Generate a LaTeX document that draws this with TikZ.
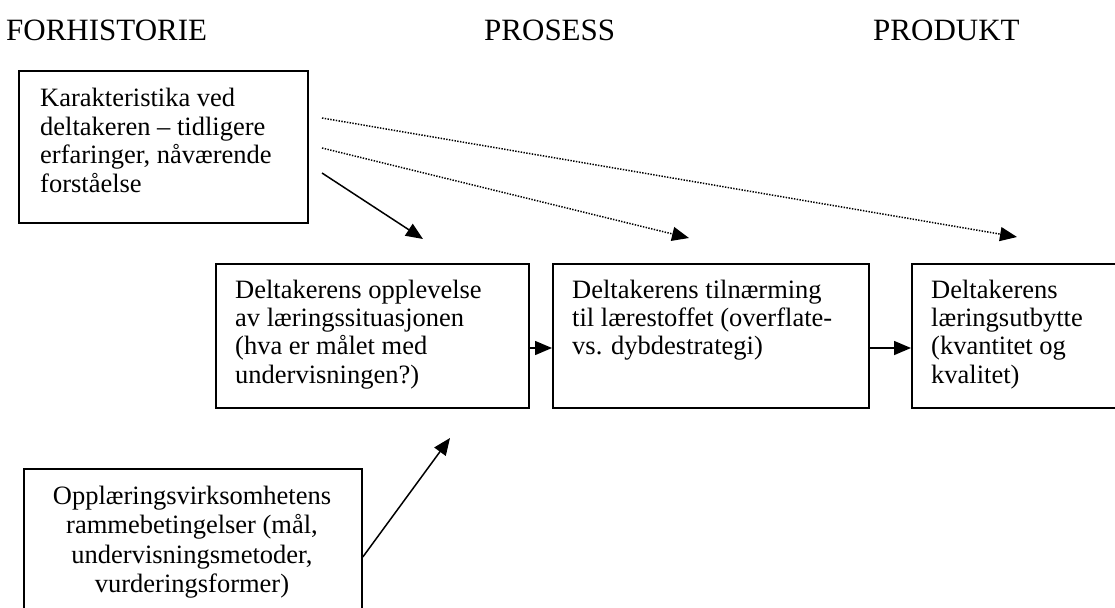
\documentclass[tikz,border=0pt]{standalone}
\usepackage{fontspec}
\setmainfont{Liberation Serif}
\usetikzlibrary{arrows.meta}
\begin{document}
\begin{tikzpicture}[x=1pt,y=-1pt,
  box/.style={draw,line width=1.8pt,inner sep=0pt,anchor=north west},
  txt/.style={align=left,inner sep=0pt,anchor=base west,font=\fontsize{26.5}{28.4}\selectfont},
  title/.style={inner sep=0pt,anchor=base west,font=\fontsize{31}{34}\selectfont},
  ctxt/.style={align=center,inner sep=0pt,anchor=base,font=\fontsize{26.5}{29.5}\selectfont},
  solidarrow/.style={line width=1.5pt,-{Triangle[length=17pt,width=14pt]}},
  dotarrow/.style={line width=1.5pt,dash pattern=on 1.4pt off 1.4pt,-{Triangle[length=17pt,width=14pt]}}
]
\useasboundingbox (0,0) rectangle (1115,607);
\clip (0,0) rectangle (1115,607);
% titles
\node[title] (t1) at (6,41) {FORHISTORIE};
\node[title] (t2) at (484,41) {PROSESS};
\node[title] (t3) at (873,41) {PRODUKT};
% boxes
\node[box,minimum width=289pt,minimum height=152pt] (A) at (18,70) {};
\node[box,minimum width=313pt,minimum height=144pt] (B) at (215,263) {};
\node[box,minimum width=316pt,minimum height=144pt] (C) at (552,263) {};
\node[box,minimum width=230pt,minimum height=144pt] (D) at (911,263) {};
\node[box,minimum width=338pt,minimum height=170pt] (E) at (23,468) {};
% texts (base anchor = baseline of last line)
\node[txt] (tA) at (40,192) {Karakteristika ved\\deltakeren – tidligere\\erfaringer, nåværende\\forståelse};
\node[txt] (tB) at (235,383.2) {Deltakerens opplevelse\\av læringssituasjonen\\(hva er målet med\\undervisningen?)};
\node[txt] (tC) at (572,354.8) {Deltakerens tilnærming\\til lærestoffet (overflate-\\vs. dybdestrategi)};
\node[txt] (tD) at (931,383.2) {Deltakerens\\læringsutbytte\\(kvantitet og\\kvalitet)};
\node[ctxt] (tE) at (192,592.5) {Opplæringsvirksomhetens\\rammebetingelser (mål,\\undervisningsmetoder,\\vurderingsformer)};
% connectors
\coordinate (s1) at (322,118);
\coordinate (e1) at (1017,237);
\coordinate (s2) at (322,148);
\coordinate (e2) at (689,238);
\coordinate (s3) at (322,173);
\coordinate (e3) at (423,239);
\coordinate (e6) at (450,438);
\draw[dotarrow] (s1) -- (e1);
\draw[dotarrow] (s2) -- (e2);
\draw[solidarrow] (s3) -- (e3);
\draw[solidarrow] (B.east |- 0,348) -- (C.west |- 0,348);
\draw[solidarrow] (C.east |- 0,348) -- (D.west |- 0,348);
\draw[solidarrow] (E.east |- 0,557) -- (e6);
\end{tikzpicture}
\end{document}
